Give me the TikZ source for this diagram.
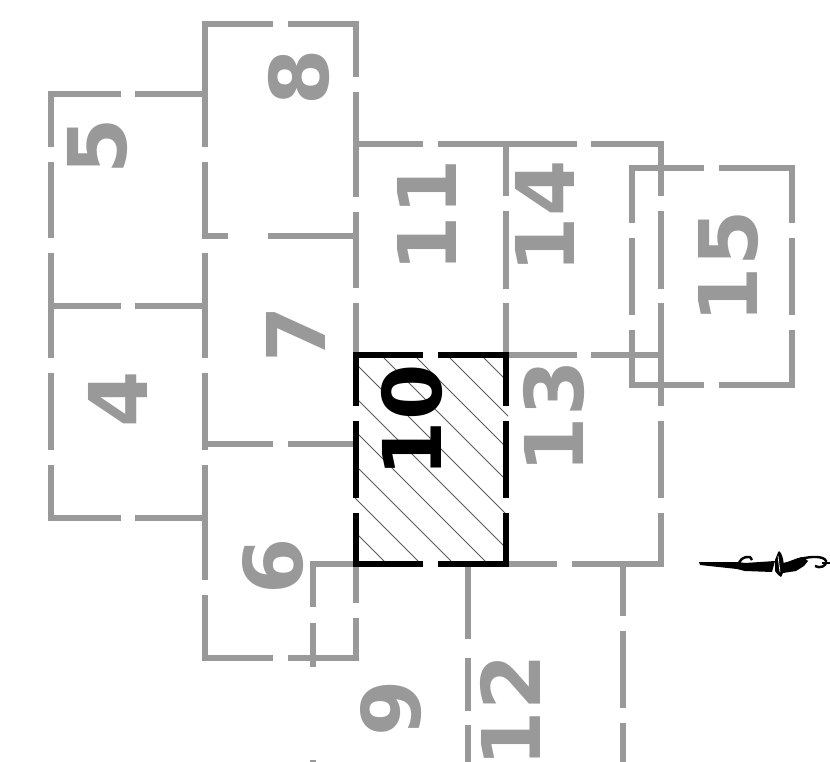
\documentclass[tikz,border=0pt]{standalone}
\usepackage{fontspec}
\setmainfont{DejaVu Sans}
\definecolor{gr}{HTML}{999999}
\newcommand{\hsegs}[2]{\foreach \a/\b in {#2} \draw (\a,-#1) -- (\b,-#1);}
\newcommand{\vsegs}[2]{\foreach \a/\b in {#2} \draw (#1,-\a) -- (#1,-\b);}
\tikzset{blackbox/.style={draw=black,line width=6pt},
 plain/.style={draw=gr,line width=6pt},
 hatchline/.style={draw=black!65,line width=1pt},
 lab/.style={font=\fontsize{81}{81}\selectfont\bfseries,rotate=90,text=gr,inner sep=0pt},
 labk/.style={lab,text=black}}
\begin{document}
\begin{tikzpicture}[x=1pt,y=1pt]
\useasboundingbox (0,0) rectangle (830,-762);
\begin{scope}
\clip (0,0) rectangle (830,-762);
\begin{scope}[plain]
% horizontal runs
\hsegs{94}{48/121,135/205}
\hsegs{306}{48/121,135/205}
\hsegs{518}{48/121,135/205}
\hsegs{24}{202/273,288/359}
\hsegs{236}{205/228,268/356}
\hsegs{444}{205/273,288/356}
\hsegs{658}{202/273,288/359}
\hsegs{144}{356/423,438/577,591/664}
\hsegs{355}{506/577,591/664}
\hsegs{564}{310/356,506/557,572/664}
\hsegs{168}{629/704,719/795}
\hsegs{385}{629/704,719/795}
% vertical runs
\vsegs{51}{91/147,162/238,253/358,373/450,465/521}
\vsegs{205}{21/147,162/239,253/358,373/450,465/580,595/661}
\vsegs{356}{21/77,92/197,212/288,303/356,564/603,618/661}
\vsegs{506}{141/196,211/289,303/356}
\vsegs{661}{141/196,211/289,303/406,421/498,513/567}
\vsegs{632}{165/223,238/315,330/388}
\vsegs{792}{165/223,238/315,330/388}
\vsegs{313}{561/607,623/667,760/770}
\vsegs{468}{566/639,658/711,725/770}
\vsegs{623}{564/616,631/708,723/770}
\end{scope}
\node[lab] (n5) at (98,-146) {5};
\node[lab] (n4) at (118,-399) {4};
\node[lab] (n8) at (299,-77) {8};
\node[lab] (n7) at (296,-334) {7};
\node[lab] (n6) at (273,-566) {6};
\node[lab] (n11) at (427,-216) {11};
\node[lab] (n14) at (545,-217) {14};
\node[lab] (n13) at (554,-417) {13};
\node[lab] (n15) at (729,-267) {15};
\node[lab] (n9) at (391,-708) {9};
\node[lab] (n12) at (510,-711) {12};
\begin{scope}
\clip (355,-355) rectangle (508,-565);
\foreach \c in {-126,-92,-59,-26,8,42,76,110,143,177}
  \draw[hatchline] (340,-340-\c) -- (520,-520-\c);
\end{scope}
\begin{scope}[blackbox]
\hsegs{355}{353/423,438/509}
\hsegs{564}{353/423,438/509}
\vsegs{356}{355/406,421/498,513/564}
\vsegs{506}{355/406,421/498,513/564}
\end{scope}
\node[labk] (n10) at (412,-421) {10};
\end{scope}
% north-arrow flourish
\fill (699,-562) -- (738,-562) -- (745,-563) -- (775,-561) -- (772,-572) -- (745,-571) -- (737,-569) -- (700,-565) -- cycle;
\fill (775,-560) .. controls (777,-555) and (778,-552) .. (779,-551) .. controls (782,-553) and (783,-558) .. (784,-565) .. controls (784,-570) and (783,-574) .. (781,-577) .. controls (778,-575) and (776,-573) .. (775,-571) -- cycle;
\fill (783,-563) .. controls (790,-562) and (795,-558) .. (803,-557) -- (808,-561) -- (804,-566) -- (796,-571) -- (783,-573) -- cycle;
\draw[line width=2.4pt] (739,-566) .. controls (738,-560) and (744,-556) .. (750,-557) -- (752,-560);
\draw[line width=2.4pt] (800,-559) .. controls (812,-556) and (824,-556) .. (826,-561) .. controls (827,-566) and (820,-569) .. (815,-566);
\draw[line width=1.6pt] (822,-563) -- (830,-563);
\draw[white,line width=.7pt] (778,-556) -- (780,-572);
\end{tikzpicture}
\end{document}
